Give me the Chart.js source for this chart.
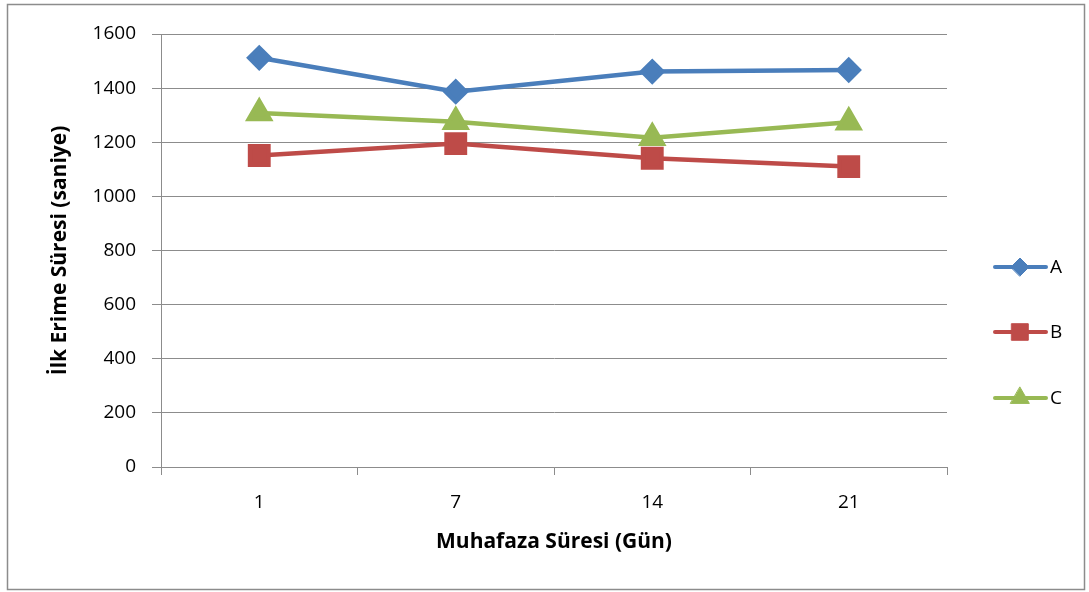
<!DOCTYPE html>
<html>
<head>
<meta charset="utf-8">
<script src="https://cdn.jsdelivr.net/npm/chart.js@4/dist/chart.umd.min.js"></script>
<style>
  body { margin: 0; background: #fff; }
  #wrap { width: 1089px; height: 592px; }
</style>
</head>
<body>
<div id="wrap"><canvas id="myChart" width="1089" height="592"></canvas></div>
<script>
// data
var days = ['1', '7', '14', '21']
var seriesA = [1512, 1387, 1461, 1467]
var seriesB = [1151, 1195, 1141, 1110]
var seriesC = [1308, 1276, 1217, 1274]
var yTicks = [0, 200, 400, 600, 800, 1000, 1200, 1400, 1600]

var fontName = '"Open Sans", Lato, sans-serif'
var grey = '#8c8c8c'

// frame round the whole chart + excel style legend (line with marker)
const extras = {
  id: 'extras',
  beforeDraw(chart) {
    const ctx = chart.ctx
    ctx.save()
    ctx.fillStyle = '#fff'
    ctx.fillRect(0, 0, chart.width, chart.height)
    ctx.strokeStyle = grey
    ctx.lineWidth = 1.5
    ctx.strokeRect(7.5, 4.5, 1077, 585)
    ctx.restore()
  },
  afterDraw(chart) {
    const ctx = chart.ctx
    const rows = [267, 332, 398]
    chart.data.datasets.forEach(function(ds, i) {
      var y = rows[i]
      ctx.save()
      ctx.strokeStyle = ds.borderColor
      ctx.lineWidth = 4
      ctx.lineCap = 'round'
      ctx.beginPath()
      ctx.moveTo(995, y)
      ctx.lineTo(1046, y)
      ctx.stroke()
      ctx.fillStyle = ds.backgroundColor
      ctx.strokeStyle = ds.backgroundColor
      ctx.lineWidth = 1
      Chart.helpers.drawPoint(ctx, {pointStyle: ds.pointStyle, radius: ds.pointRadius * 0.9, borderWidth: 1}, 1020, y)
      ctx.fillStyle = '#000'
      ctx.font = '19px ' + fontName
      ctx.textBaseline = 'middle'
      ctx.textAlign = 'left'
      ctx.fillText(ds.label, 1050, y + 1)
      ctx.restore()
    })
  }
}

const config = {
  type: 'line',
  data: {
    labels: days,
    datasets: [
      {
        label: 'A',
        data: seriesA,
        borderColor: '#4a7ebb',
        backgroundColor: '#4a7ebb',
        borderWidth: 4.5,
        pointStyle: 'rectRot',
        pointRadius: 10,
        pointHoverRadius: 10
      },
      {
        label: 'B',
        data: seriesB,
        borderColor: '#be4b48',
        backgroundColor: '#be4b48',
        borderWidth: 4.5,
        pointStyle: 'rect',
        pointRadius: 13,
        pointHoverRadius: 13
      },
      {
        label: 'C',
        data: seriesC,
        borderColor: '#98b954',
        backgroundColor: '#98b954',
        borderWidth: 4.5,
        pointStyle: 'triangle',
        pointRadius: 12,
        pointHoverRadius: 12
      }
    ]
  },
  options: {
    responsive: false,
    animation: false,
    events: [],
    layout: { padding: { left: 0, top: 34, right: 142, bottom: 0 } },
    plugins: {
      legend: { display: false },
      tooltip: { enabled: false }
    },
    scales: {
      x: {
        offset: true,
        grid: {
          offset: true,
          drawOnChartArea: false,
          color: grey,
          tickLength: 8,
          tickColor: grey
        },
        border: { color: grey, width: 1 },
        ticks: { color: '#000', font: { family: fontName, size: 19 }, padding: 16 },
        title: {
          display: true,
          text: 'Muhafaza Süresi (Gün)',
          color: '#000',
          font: { family: fontName, size: 21, weight: 'bold' },
          padding: { top: 0, bottom: 37 }
        },
        afterFit: function(s) { s.height = 125 }
      },
      y: {
        min: 0,
        max: 1600,
        afterBuildTicks: function(s) { s.ticks = yTicks.map(function(v) { return { value: v } }) },
        grid: { color: grey, tickLength: 9, tickColor: grey },
        border: { color: grey, width: 1 },
        ticks: {
          color: '#000',
          font: { family: fontName, size: 19 },
          padding: 16,
          callback: function(v) { return String(v) }
        },
        title: {
          display: true,
          text: 'İlk Erime Süresi (saniye)',
          color: '#000',
          font: { family: fontName, size: 21, weight: 'bold' },
          padding: { top: 47, bottom: 0 }
        },
        afterFit: function(s) { s.width = 161 }
      }
    }
  },
  plugins: [extras]
}

const myChart = new Chart(document.getElementById('myChart'), config)
</script>
</body>
</html>
